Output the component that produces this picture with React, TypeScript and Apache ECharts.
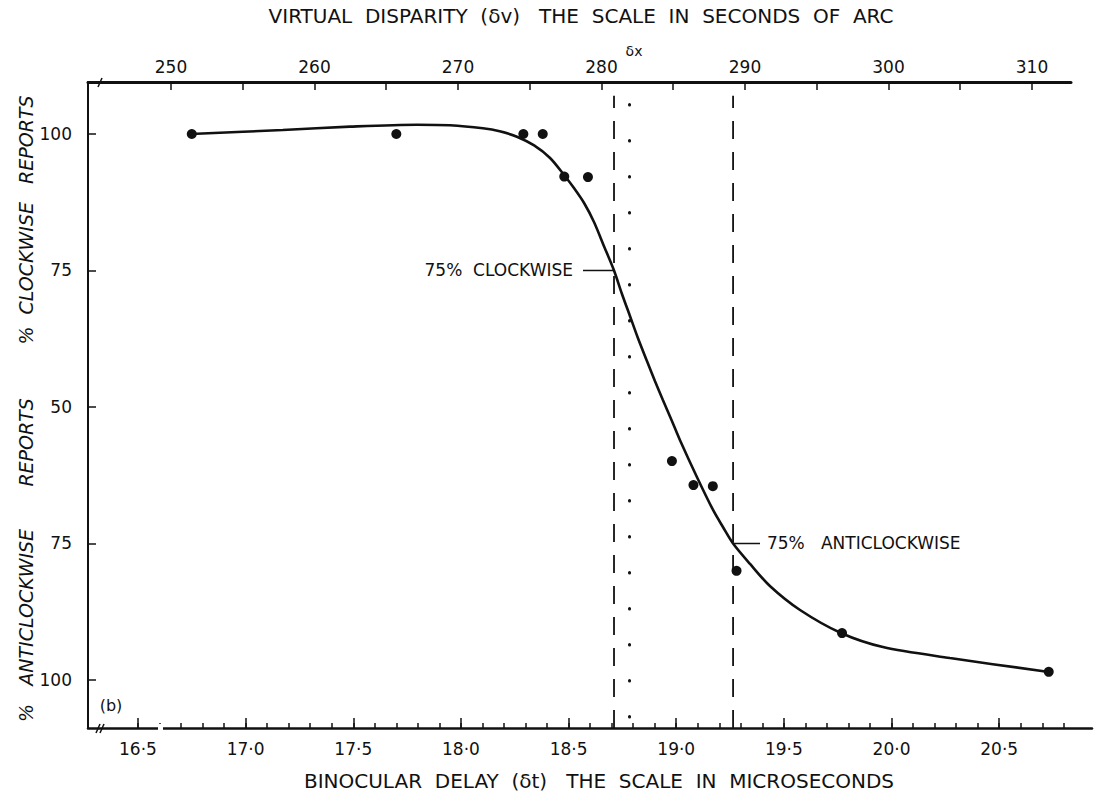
import React, { useEffect, useRef } from "react";
import * as echarts from "echarts";

// Observed points: binocular delay (microseconds) vs % clockwise reports
const observedDelay = [16.75, 17.7, 18.29, 18.38, 18.48, 18.59, 18.98, 19.08, 19.17, 19.28, 19.77, 20.73];
const observedClockwise = [100, 100, 100, 100, 92.2, 92.1, 40.1, 35.7, 35.5, 20.0, 8.6, 1.5];

// Fitted (hand-drawn) curve
const curveDelay = [16.746, 17.173, 17.485, 17.796, 17.949, 18.102, 18.18, 18.26, 18.34, 18.414, 18.479, 18.525, 18.572, 18.618, 18.664, 18.711, 18.748, 18.785, 18.822, 18.864, 18.901, 18.938, 18.98, 19.017, 19.096, 19.171, 19.217, 19.264, 19.343, 19.435, 19.575, 19.765, 19.96, 20.271, 20.731];
const curveClockwise = [100.0, 100.73, 101.34, 101.7, 101.59, 101.04, 100.5, 99.5, 97.9, 95.6, 92.49, 90.11, 87.36, 83.88, 79.49, 75.0, 70.7, 66.67, 62.64, 58.42, 54.76, 51.28, 47.44, 43.96, 37.18, 31.14, 28.02, 25.0, 21.25, 17.22, 12.82, 8.61, 6.04, 4.03, 1.47];

// Reference lines
const delay75Clockwise = 18.711;
const delay75Anticlockwise = 19.264;
const deltaX = 18.783;

// Axis ticks / labels
const bottomMajor = [16.5, 17.0, 17.5, 18.0, 18.5, 19.0, 19.5, 20.0, 20.5];
const bottomLabels = ["16·5", "17·0", "17·5", "18·0", "18·5", "19·0", "19·5", "20·0", "20·5"];
const topMajor = [250, 260, 270, 280, 290, 300, 310];
const topMinor = [250, 255, 260, 265, 270, 275, 280, 285, 290, 295, 300, 305, 310];
const yTicks = [0, 25, 50, 75, 100];
const yTickLabels = ["100", "75", "50", "75", "100"];

const X_MIN = 16.268;
const X_MAX = 20.931;
const TOP_MIN = 244.216;
const TOP_MAX = 312.718;
const Y_MIN = -8.79;
const Y_MAX = 109.52;

const INK = "#111111";
const FONT = '"DejaVu Sans", "Liberation Sans", sans-serif';

const bottomMinor: number[] = [];
for (let i = 165; i <= 208; i++) bottomMinor.push(i / 10);

function nearestLabel(values: number[], labels: string[], v: number) {
  let best = 0;
  for (let i = 1; i < values.length; i++) {
    if (Math.abs(values[i] - v) < Math.abs(values[best] - v)) best = i;
  }
  return labels[best];
}

export default function App() {
  const ref = useRef<HTMLDivElement>(null);
  useEffect(() => {
    if (!ref.current) return;
    const chart = echarts.init(ref.current, undefined, { renderer: "svg" });
    const dashed = (x: number) => ({
      type: "line",
      xAxisIndex: 0,
      yAxisIndex: 0,
      symbol: "none",
      silent: true,
      data: [[x, Y_MIN], [x, 107]],
      lineStyle: { color: INK, width: 1.8, type: [18, 13] },
    });
    const leader = (x1: number, x2: number, y: number) => ({
      type: "line",
      xAxisIndex: 0,
      yAxisIndex: 0,
      symbol: "none",
      silent: true,
      data: [[x1, y], [x2, y]],
      lineStyle: { color: INK, width: 1.5 },
    });
    const option: any = {
      animation: false,
      backgroundColor: "#ffffff",
      grid: [
        { left: 88, right: 3, top: 82, bottom: 69, show: false },
        { left: 88, right: 24, top: 82, bottom: 69, show: false },
      ],
      xAxis: [
        {
          gridIndex: 0,
          type: "value",
          position: "bottom",
          min: X_MIN,
          max: X_MAX,
          splitLine: { show: false },
          axisLine: { show: true, onZero: false, lineStyle: { color: INK, width: 2.5 } },
          axisTick: { show: true, inside: true, length: 5, customValues: bottomMinor, lineStyle: { color: INK, width: 1.5 } },
          axisLabel: {
            show: true,
            customValues: bottomMajor,
            formatter: (v: number) => nearestLabel(bottomMajor, bottomLabels, v),
            margin: 12,
            color: INK,
            fontSize: 17,
            fontFamily: FONT,
          },
        },
        {
          gridIndex: 1,
          type: "value",
          position: "top",
          min: TOP_MIN,
          max: TOP_MAX,
          splitLine: { show: false },
          axisLine: { show: true, onZero: false, lineStyle: { color: INK, width: 3 } },
          axisTick: { show: true, inside: true, length: 8, customValues: topMinor, lineStyle: { color: INK, width: 1.5 } },
          axisLabel: {
            show: true,
            customValues: topMajor,
            formatter: (v: number) => nearestLabel(topMajor, topMajor.map(String), v),
            margin: 7,
            color: INK,
            fontSize: 17,
            fontFamily: FONT,
          },
        },
        {
          gridIndex: 0,
          type: "value",
          position: "bottom",
          min: X_MIN,
          max: X_MAX,
          splitLine: { show: false },
          axisLine: { show: false, onZero: false },
          axisTick: { show: true, inside: true, length: 10, customValues: bottomMajor, lineStyle: { color: INK, width: 1.5 } },
          axisLabel: { show: false },
        },
      ],
      yAxis: [
        {
          gridIndex: 0,
          type: "value",
          min: Y_MIN,
          max: Y_MAX,
          splitLine: { show: false },
          axisLine: { show: true, onZero: false, lineStyle: { color: INK, width: 2 } },
          axisTick: { show: true, inside: true, length: 8, customValues: yTicks, lineStyle: { color: INK, width: 1.5 } },
          axisLabel: {
            show: true,
            customValues: yTicks,
            formatter: (v: number) => nearestLabel(yTicks, yTickLabels, v),
            margin: 16,
            color: INK,
            fontSize: 17,
            fontFamily: FONT,
          },
        },
        { gridIndex: 1, type: "value", min: 0, max: 1, show: false },
      ],
      series: [
        {
          type: "line",
          xAxisIndex: 0,
          yAxisIndex: 0,
          symbol: "none",
          smooth: 0.3,
          data: curveDelay.map((x, i) => [x, curveClockwise[i]]),
          lineStyle: { color: INK, width: 2.6 },
        },
        {
          type: "scatter",
          xAxisIndex: 0,
          yAxisIndex: 0,
          symbol: "circle",
          symbolSize: 10,
          data: observedDelay.map((x, i) => [x, observedClockwise[i]]),
          itemStyle: { color: INK, opacity: 1 },
        },
        dashed(delay75Clockwise),
        dashed(delay75Anticlockwise),
        {
          type: "line",
          xAxisIndex: 0,
          yAxisIndex: 0,
          symbol: "none",
          silent: true,
          data: [[deltaX, Y_MIN + 2], [deltaX, 107]],
          lineStyle: { color: INK, width: 3, type: [0.5, 35.5], cap: "round" },
        },
        leader(18.567, delay75Clockwise, 75),
        leader(delay75Anticlockwise, 19.389, 25),
        {
          type: "scatter",
          xAxisIndex: 0,
          yAxisIndex: 0,
          symbolSize: 0,
          silent: true,
          itemStyle: { opacity: 1 },
          data: [
            {
              value: [18.567, 75],
              label: { show: true, position: "left", distance: 10, formatter: "75%  CLOCKWISE", color: INK, opacity: 1, fontSize: 17, fontFamily: FONT },
            },
            {
              value: [19.389, 25],
              label: { show: true, position: "right", distance: 7, formatter: "75%   ANTICLOCKWISE", color: INK, opacity: 1, fontSize: 17, fontFamily: FONT },
            },
          ],
        },
      ],
      graphic: [
        {
          type: "text",
          x: 581,
          y: 16,
          style: { text: "VIRTUAL  DISPARITY  (δv)   THE  SCALE  IN  SECONDS  OF  ARC", fill: INK, fontSize: 20, fontFamily: FONT, align: "center", verticalAlign: "middle" },
        },
        {
          type: "text",
          x: 599,
          y: 781,
          style: { text: "BINOCULAR  DELAY  (δt)   THE  SCALE  IN  MICROSECONDS", fill: INK, fontSize: 20, fontFamily: FONT, align: "center", verticalAlign: "middle" },
        },
        {
          type: "text",
          x: 26,
          y: 220,
          rotation: Math.PI / 2,
          style: { text: "%  CLOCKWISE   REPORTS", fill: INK, fontSize: 19, fontStyle: "italic", fontFamily: FONT, align: "center", verticalAlign: "middle" },
        },
        {
          type: "text",
          x: 26,
          y: 560,
          rotation: Math.PI / 2,
          style: { text: "%   ANTICLOCKWISE       REPORTS", fill: INK, fontSize: 19, fontStyle: "italic", fontFamily: FONT, align: "center", verticalAlign: "middle" },
        },
        {
          type: "text",
          x: 111,
          y: 705,
          style: { text: "(b)", fill: INK, fontSize: 16, fontFamily: FONT, align: "center", verticalAlign: "middle" },
        },
        {
          type: "text",
          x: 634,
          y: 51,
          style: { text: "δx", fill: INK, fontSize: 14, fontFamily: FONT, align: "center", verticalAlign: "middle" },
        },
        { type: "rect", shape: { x: 158, y: 724, width: 5, height: 8 }, style: { fill: "#ffffff" }, z: 100 },
        { type: "line", shape: { x1: 96, y1: 733, x2: 100, y2: 724 }, style: { stroke: INK, lineWidth: 1.5 }, z: 101 },
        { type: "line", shape: { x1: 100, y1: 733, x2: 104, y2: 724 }, style: { stroke: INK, lineWidth: 1.5 }, z: 101 },
        { type: "line", shape: { x1: 98, y1: 87, x2: 102, y2: 78 }, style: { stroke: INK, lineWidth: 1.5 }, z: 101 },
      ],
    };
    chart.setOption(option);
    return () => chart.dispose();
  }, []);
  return (
    <div
      ref={ref}
      style={{ position: "fixed", left: 0, top: 0, width: 1095, height: 797, background: "#fff" }}
    />
  );
}
